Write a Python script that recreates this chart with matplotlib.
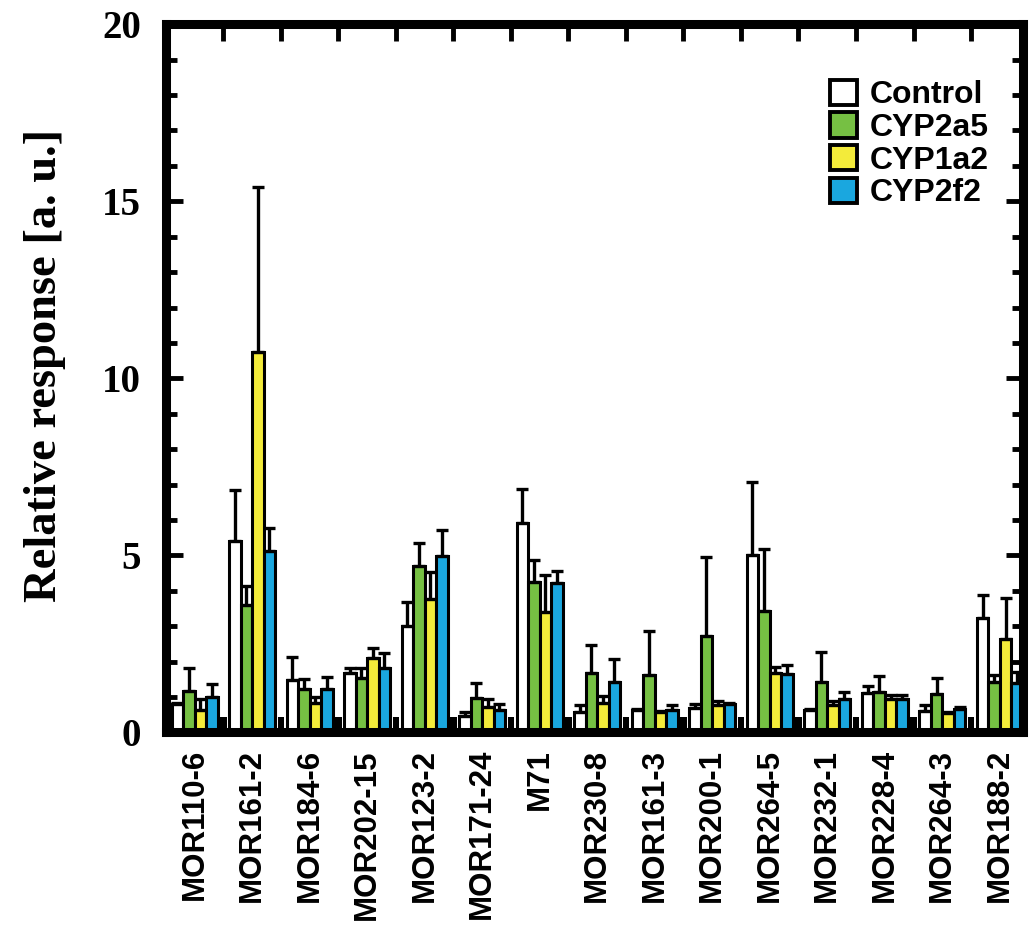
import numpy as np
import matplotlib
matplotlib.use('Agg')
import matplotlib.pyplot as plt
from matplotlib.ticker import MultipleLocator

# receptors and measured responses (mean, upper error)
receptors = ['MOR110-6', 'MOR161-2', 'MOR184-6', 'MOR202-15', 'MOR123-2', 'MOR171-24', 'M71',
             'MOR230-8', 'MOR161-3', 'MOR200-1', 'MOR264-5', 'MOR232-1', 'MOR228-4', 'MOR264-3', 'MOR188-2']
series = ['Control', 'CYP2a5', 'CYP1a2', 'CYP2f2']

control = [0.79, 5.41, 1.49, 1.67, 3.01, 0.45, 5.92, 0.59, 0.62, 0.70, 5.01, 0.62, 1.11, 0.60, 3.22]
control_err = [0.05, 1.44, 0.63, 0.16, 0.66, 0.12, 0.95, 0.17, 0.03, 0.11, 2.06, 0.05, 0.21, 0.18, 0.67]
cyp2a5 = [1.18, 3.60, 1.23, 1.53, 4.70, 0.97, 4.25, 1.67, 1.63, 2.73, 3.44, 1.42, 1.14, 1.09, 1.42]
cyp2a5_err = [0.63, 0.54, 0.28, 0.30, 0.66, 0.42, 0.62, 0.80, 1.22, 2.21, 1.73, 0.84, 0.44, 0.45, 0.19]
cyp1a2 = [0.64, 10.73, 0.83, 2.09, 3.77, 0.71, 3.39, 0.83, 0.57, 0.76, 1.67, 0.78, 0.95, 0.54, 2.64]
cyp1a2_err = [0.29, 4.67, 0.18, 0.28, 0.75, 0.24, 1.06, 0.21, 0.03, 0.14, 0.17, 0.10, 0.12, 0.03, 1.17]
cyp2f2 = [1.01, 5.13, 1.23, 1.81, 4.99, 0.62, 4.22, 1.42, 0.62, 0.79, 1.65, 0.95, 0.95, 0.67, 1.39]
cyp2f2_err = [0.37, 0.65, 0.33, 0.44, 0.72, 0.17, 0.34, 0.66, 0.14, 0.03, 0.24, 0.19, 0.12, 0.06, 0.33]
mock = [0.43] * 15

values = [control, cyp2a5, cyp1a2, cyp2f2]
errors = [control_err, cyp2a5_err, cyp1a2_err, cyp2f2_err]
colors = ['white', '#76C043', '#F3EB3A', '#1AA7DF']

fig = plt.figure(figsize=(10.3, 9.33), dpi=100)
ax = fig.add_axes([0.161, 0.215, 0.832, 0.759])

x = np.arange(len(receptors))
w = 0.2
offsets = [-0.3, -0.1, 0.1, 0.3]
for vals, errs, col, off, name in zip(values, errors, colors, offsets, series):
    ax.bar(x + off, vals, w, color=col, edgecolor='black', linewidth=2.2, label=name, zorder=2)
    ax.errorbar(x + off, vals, yerr=[np.zeros(len(errs)), errs], fmt='none', ecolor='black',
                elinewidth=2.4, capsize=4.3, capthick=2.4, zorder=3)
ax.bar(x + 0.5, mock, 0.11, color='black', zorder=2)

ax.set_xlim(-0.5, 14.4)
ax.set_ylim(0, 20)

for s in ax.spines.values():
    s.set_linewidth(6.5)
    s.set_zorder(5)

ax.yaxis.set_major_locator(MultipleLocator(5))
ax.yaxis.set_minor_locator(MultipleLocator(1))
ax.tick_params(axis='y', which='major', direction='in', length=12, width=3.5, left=True, right=True, pad=18)
ax.tick_params(axis='y', which='minor', direction='in', length=8, width=3.5, left=True, right=True)
ax.set_yticks([0, 5, 10, 15, 20])
ax.set_yticklabels(['0', '5', '10', '15', '20'], fontfamily='Liberation Serif', fontweight='bold', fontsize=28)

ax.set_xticks(x)
ax.set_xticklabels(receptors, rotation=90, fontfamily='Liberation Sans', fontweight='bold', fontsize=22.5,
                   va='top', ha='center')
ax.tick_params(axis='x', which='both', length=0, pad=12)

# ticks at group boundaries along the top spine
top = ax.secondary_xaxis('top')
top.set_xticks(x[:-1] + 0.5)
top.set_xticklabels([])
top.tick_params(direction='in', length=12, width=3.5)
top.spines['top'].set_visible(False)

ax.set_ylabel('Relative response [a. u.]', fontfamily='Liberation Serif', fontweight='bold', fontsize=33.5,
              labelpad=26)
ax.yaxis.label.set_y(0.518)

leg = ax.legend(loc='upper left', bbox_to_anchor=(0.76, 0.94), frameon=False,
                prop={'family': 'Liberation Sans', 'weight': 'bold', 'size': 23},
                handlelength=0.85, handleheight=0.85, handletextpad=0.4, labelspacing=0.06, borderaxespad=0)
for p in leg.get_patches():
    p.set_linewidth(2.8)

fig.savefig('out.png', dpi=100)
